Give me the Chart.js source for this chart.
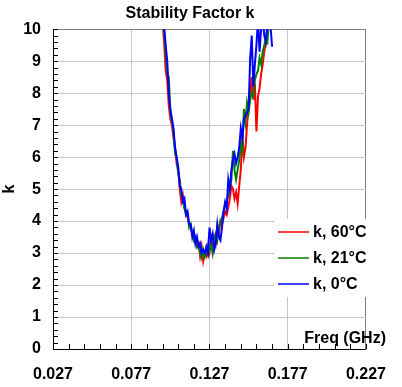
<!DOCTYPE html>
<html>
<head>
<meta charset="utf-8">
<script src="https://cdn.jsdelivr.net/npm/chart.js@4/dist/chart.umd.min.js"></script>
<style>
  html, body { margin: 0; padding: 0; background: #fff; }
  #wrap { width: 402px; height: 387px; }
</style>
</head>
<body>
<div id="wrap"><canvas id="kchart"></canvas></div>
<script>
// frequency points (GHz), one per sample
const freqs = [
  0.095, 0.096, 0.097, 0.098, 0.099, 0.100, 0.101, 0.102, 0.103, 0.104,
  0.105, 0.106, 0.107, 0.108, 0.109, 0.110, 0.111, 0.112, 0.113, 0.114,
  0.115, 0.116, 0.117, 0.118, 0.119, 0.120, 0.121, 0.122, 0.123, 0.124,
  0.125, 0.126, 0.127, 0.128, 0.129, 0.130, 0.131, 0.132, 0.133, 0.134,
  0.135, 0.136, 0.137, 0.138, 0.139, 0.140, 0.141, 0.142, 0.143, 0.144,
  0.145, 0.146, 0.147, 0.148, 0.149, 0.150, 0.151, 0.152, 0.153, 0.154,
  0.155, 0.156, 0.157, 0.158, 0.159, 0.160, 0.161, 0.162, 0.163, 0.164,
  0.165, 0.166, 0.167
];

const k60 = [
  11.3, 10.8, 10.2, 9.6, 8.7, 8.4, 7.6, 7.2, 7.0, 6.6,
  6.3, 5.8, 5.6, 5.0, 4.6, 4.8, 4.4, 4.3, 4.1, 3.9,
  3.8, 3.6, 3.5, 3.3, 3.2, 3.3, 2.9, 3.2, 2.75, 3.0,
  2.9, 3.2, 3.0, 3.4, 3.1, 3.5, 3.3, 3.8, 3.6, 4.0,
  3.9, 4.1, 4.3, 4.2, 4.45, 4.7, 5.1, 5.0, 4.7, 4.9,
  4.55, 5.1, 5.6, 6.6, 6.0, 6.3, 7.0, 7.6, 8.0, 8.5,
  7.8, 8.3, 6.8, 7.9, 8.15, 8.6, 8.9, 9.3, 9.6, 10.0,
  10.4, 10.6, 10.8
];

const k21 = [
  11.4, 11.0, 10.5, 9.9, 9.3, 8.6, 8.5, 7.4, 7.1, 6.8,
  6.1, 6.0, 5.5, 5.3, 4.8, 4.7, 4.4, 4.2, 4.2, 3.8,
  3.9, 3.6, 3.4, 3.5, 3.2, 3.3, 3.0, 2.85, 3.1, 2.9,
  3.1, 2.95, 3.1, 3.3, 3.0, 3.4, 3.6, 3.4, 3.8, 4.0,
  4.1, 4.3, 4.5, 4.6, 4.8, 5.0, 5.3, 6.2, 5.6, 5.3,
  5.6, 5.9, 6.4, 6.2, 7.5, 7.1, 7.7, 7.4, 7.8, 8.0,
  7.9, 8.4, 8.6, 8.7, 9.1, 8.9, 9.3, 9.5, 9.7, 9.6,
  10.2, 10.5, 10.7
];

const k0 = [
  11.6, 11.1, 10.6, 10.1, 9.5, 9.0, 8.0, 7.5, 7.2, 6.9,
  6.3, 6.0, 5.7, 5.1, 5.0, 4.6, 4.7, 4.2, 4.3, 3.9,
  3.9, 3.5, 3.7, 3.3, 3.5, 3.2, 3.3, 3.0, 3.1, 3.0,
  3.2, 3.0, 3.8, 3.4, 3.6, 3.1, 3.3, 3.9, 3.5, 3.4,
  3.8, 4.3, 4.6, 4.4, 5.3, 5.0, 5.6, 5.9, 6.1, 5.8,
  6.0, 6.3, 6.9, 6.6, 7.2, 7.3, 7.4, 7.5, 9.1, 9.8,
  8.2, 8.9, 9.5, 10.3, 9.3, 10.0, 10.4, 9.8, 9.6, 10.2,
  10.6, 10.1, 9.45
];

const xTicks = [0.027, 0.077, 0.127, 0.177, 0.227];
const seriesNames = ['k, 60°C', 'k, 21°C', 'k, 0°C'];
const seriesColors = ['#ff0000', '#008000', '#0000ff'];

const FONT = 'Arial, "Liberation Sans", sans-serif';

function pts(vals) {
  return freqs.map((f, i) => ({ x: f, y: vals[i] }));
}

// minor tick marks inside the axes + legend box + "Freq (GHz)" label
const decorPlugin = {
  id: 'decor',
  afterDraw(chart) {
    const { ctx, chartArea: a, scales: { x, y } } = chart;
    ctx.save();
    ctx.strokeStyle = '#000';
    ctx.lineWidth = 1;
    ctx.beginPath();
    for (let v = 0; v <= 10.001; v += 0.2) {
      const py = Math.round(y.getPixelForValue(v)) + 0.5;
      ctx.moveTo(a.left, py);
      ctx.lineTo(a.left + 5, py);
    }
    for (let v = 0.027; v <= 0.2271; v += 0.01) {
      const px = Math.round(x.getPixelForValue(v)) + 0.5;
      ctx.moveTo(px, a.bottom);
      ctx.lineTo(px, a.bottom - 5);
    }
    ctx.stroke();

    // legend
    ctx.fillStyle = '#fff';
    ctx.fillRect(274, 219, 102, 78);
    const rows = [232, 258, 284];
    ctx.font = 'bold 16px ' + FONT;
    ctx.textBaseline = 'middle';
    ctx.textAlign = 'left';
    rows.forEach((ry, i) => {
      ctx.strokeStyle = seriesColors[i];
      ctx.lineWidth = 1.5;
      ctx.beginPath();
      ctx.moveTo(278, ry);
      ctx.lineTo(309, ry);
      ctx.stroke();
      ctx.fillStyle = '#000';
      ctx.fillText(seriesNames[i], 313, ry + 1);
    });

    ctx.textAlign = 'right';
    ctx.textBaseline = 'alphabetic';
    ctx.fillText('Freq (GHz)', 386, 343);
    ctx.restore();
  }
};

new Chart(document.getElementById('kchart'), {
  type: 'line',
  data: {
    datasets: [
      { label: seriesNames[0], data: pts(k60), borderColor: seriesColors[0], order: 2 },
      { label: seriesNames[1], data: pts(k21), borderColor: seriesColors[1], order: 1 },
      { label: seriesNames[2], data: pts(k0), borderColor: seriesColors[2], order: 0 },
    ],
  },
  options: {
    responsive: true,
    maintainAspectRatio: false,
    animation: false,
    devicePixelRatio: 1,
    layout: { padding: { left: 0, right: 22, top: 0, bottom: 0 } },
    elements: {
      point: { radius: 0 },
      line: { borderWidth: 2, tension: 0 },
    },
    scales: {
      x: {
        type: 'linear',
        min: 0.027,
        max: 0.227,
        afterBuildTicks(scale) {
          scale.ticks = xTicks.map(v => ({ value: v }));
        },
        afterFit(scale) { scale.height = 38; },
        grid: {
          color: ctx => (ctx.tick && ctx.tick.value === 0.227 ? '#808080' : '#c8c8c8'),
          drawTicks: false,
        },
        border: { color: '#000', width: 1 },
        ticks: {
          padding: 16,
          color: '#000',
          font: { family: FONT, size: 16, weight: 'bold' },
          callback: v => v.toFixed(3),
        },
      },
      y: {
        min: 0,
        max: 10,
        afterFit(scale) { scale.width = 53; },
        grid: {
          color: ctx => (ctx.tick && ctx.tick.value === 10 ? '#808080' : '#c8c8c8'),
          drawTicks: false,
        },
        border: { color: '#000', width: 1 },
        ticks: {
          stepSize: 1,
          padding: 12,
          color: '#000',
          font: { family: FONT, size: 16, weight: 'bold' },
        },
        title: {
          display: true,
          text: 'k',
          color: '#000',
          padding: { top: 0, bottom: 2 },
          font: { family: FONT, size: 16, weight: 'bold' },
        },
      },
    },
    plugins: {
      legend: { display: false },
      tooltip: { enabled: false },
      title: {
        display: true,
        text: 'Stability Factor k',
        color: '#000',
        padding: { top: 4, bottom: 6 },
        font: { family: FONT, size: 16, weight: 'bold' },
      },
    },
  },
  plugins: [decorPlugin],
});
</script>
</body>
</html>
